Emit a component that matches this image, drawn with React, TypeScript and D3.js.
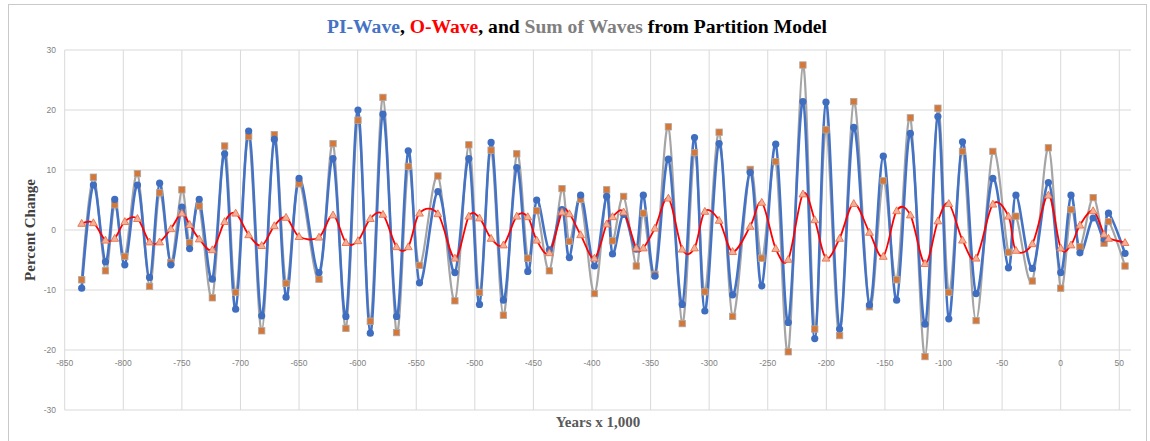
import React from "react";
import * as d3 from "d3";

// Time (years x 1,000) of each model sample
const years = [
  -835.5, -825.5, -815.2, -807.3, -798.7, -787.9, -777.6, -769.0, -759.4, -750.0,
  -743.4, -735.2, -724.0, -713.5, -704.1, -693.0, -681.9, -671.1, -661.1, -650.0,
  -633.0, -621.0, -610.0, -599.7, -589.2, -578.4, -566.8, -556.8, -547.2, -531.5,
  -517.0, -505.1, -496.0, -486.1, -475.6, -464.2, -454.8, -447.2, -436.4, -425.6,
  -419.3, -409.7, -397.9, -387.5, -382.5, -373.0, -362.2, -356.2, -346.3, -334.8,
  -323.0, -312.5, -303.7, -291.5, -280.0, -265.0, -255.1, -243.2, -232.5, -220.0,
  -209.9, -200.3, -188.7, -176.6, -163.2, -151.4, -140.0, -128.3, -115.8, -104.8,
  -95.5, -83.8, -72.2, -57.9, -44.6, -38.2, -24.2, -10.5, 0.0, 8.8,
  16.4, 27.7, 37.0, 40.8, 54.9,
];

// PI-Wave (blue)
const piWave = [
  -9.7, 7.5, -5.3, 5.1, -5.8, 7.5, -7.9, 7.8, -5.8, 3.8,
  -3.1, 5.1, -8.2, 12.7, -13.2, 16.5, -14.3, 15.1, -11.2, 8.6,
  -7.1, 11.9, -14.4, 20.0, -17.2, 19.3, -14.4, 13.2, -8.8, 6.4,
  -7.1, 11.9, -12.4, 14.6, -11.7, 10.4, -6.9, 5.0, -3.3, 3.4,
  -4.6, 5.8, -6.0, 5.6, -4.0, 2.6, -3.2, 5.8, -7.7, 11.8,
  -12.4, 15.4, -13.5, 14.4, -10.8, 9.6, -9.3, 14.3, -15.4, 21.4,
  -18.1, 21.3, -16.5, 17.1, -12.5, 12.3, -11.7, 16.1, -15.7, 18.9,
  -14.8, 14.7, -10.6, 8.6, -6.3, 5.8, -6.4, 7.9, -7.1, 5.8,
  -3.8, 2.0, -1.5, 2.8, -3.9,
];

// O-Wave (red)
const oWave = [
  1.1, 1.2, -1.7, -1.4, 1.4, 1.9, -2.0, -2.0, 0.2, 2.8,
  0.9, -1.5, -3.3, 1.4, 2.8, -0.8, -2.6, 0.7, 2.1, -1.1,
  -1.2, 2.5, -2.1, -1.8, 1.9, 2.6, -2.8, -2.8, 2.8, 2.7,
  -4.7, 2.3, 2.0, -1.4, -2.5, 2.3, 2.2, -1.7, -3.8, 3.0,
  2.7, -0.8, -4.7, 1.0, 2.2, 3.0, -3.0, -3.0, 0.3, 5.3,
  -3.2, -3.0, 3.1, 1.6, -3.6, 0.6, 4.6, -3.1, -4.9, 6.0,
  1.7, -4.7, -1.4, 4.4, -0.4, -4.4, 3.2, 2.5, -5.6, 1.5,
  4.4, -1.7, -4.7, 4.3, 2.3, -3.4, -2.3, 5.8, -3.0, -2.5,
  0.8, 3.2, -0.7, -1.4, -2.1,
];

// Sum of Waves (gray line, orange markers)
const sumWaves = [
  -8.3, 8.8, -6.8, 4.2, -4.4, 9.4, -9.4, 6.2, -5.4, 6.7,
  -2.1, 4.0, -11.3, 14.0, -10.4, 15.6, -16.8, 15.9, -8.9, 7.7,
  -8.2, 14.4, -16.4, 18.3, -15.2, 22.1, -17.1, 10.6, -5.9, 9.0,
  -11.8, 14.2, -10.4, 13.3, -14.2, 12.7, -4.7, 3.2, -6.8, 6.9,
  -1.9, 5.1, -10.6, 6.7, -1.8, 5.6, -6.0, 2.8, -7.4, 17.2,
  -15.6, 12.9, -10.3, 16.3, -14.4, 10.1, -4.7, 11.4, -20.3, 27.5,
  -16.5, 16.7, -17.6, 21.4, -12.8, 8.2, -8.3, 18.7, -21.1, 20.3,
  -10.4, 13.1, -15.1, 13.1, -3.7, 2.3, -8.5, 13.7, -9.7, 3.4,
  -2.8, 5.4, -2.2, 1.4, -6.0,
];

const xTicks = [-850, -800, -750, -700, -650, -600, -550, -500, -450, -400, -350, -300, -250, -200, -150, -100, -50, 0, 50];
const yTicks = [-30, -20, -10, 0, 10, 20, 30];

const BLUE = "#4472C4";
const RED = "#FF0000";
const GRAY = "#A5A5A5";

export default function App() {
  const x = d3.scaleLinear().domain([-850, 60]).range([64.7, 1131]);
  const y = d3.scaleLinear().domain([-30, 30]).range([410, 50]);

  const mkLine = (vals: number[]) =>
    d3
      .line<number>()
      .x((_, i) => x(years[i]))
      .y((d) => y(d))
      .curve(d3.curveCardinal.tension(0))(vals) || "";

  const tickFont = "'Liberation Sans', Arial, sans-serif";
  const serif = "'Liberation Serif', 'Times New Roman', serif";

  return (
    <svg
      width={1150}
      height={441}
      style={{ position: "absolute", left: 0, top: 0, display: "block", background: "#fff" }}
    >
      <rect x={8.5} y={4.5} width={1138} height={450} fill="#fff" stroke="#C9C9C9" strokeWidth={1} />

      {/* Gridlines */}
      {yTicks.map((t) => (
        <line key={"gy" + t} x1={x(-850)} x2={x(60)} y1={y(t)} y2={y(t)} stroke="#D9D9D9" strokeWidth={1} />
      ))}
      {xTicks.map((t) => (
        <line key={"gx" + t} x1={x(t)} x2={x(t)} y1={y(30)} y2={y(-30)} stroke="#D9D9D9" strokeWidth={1} />
      ))}

      {/* Tick labels */}
      {yTicks.map((t) => (
        <text key={"ty" + t} x={56} y={y(t) + 3} textAnchor="end" fontSize={8.5} fill="#7F7F7F" fontFamily={tickFont}>
          {t}
        </text>
      ))}
      {xTicks.map((t) => (
        <text key={"tx" + t} x={x(t)} y={y(-20) + 16} textAnchor="middle" fontSize={8.5} fill="#7F7F7F" fontFamily={tickFont}>
          {t}
        </text>
      ))}

      {/* Series lines */}
      <path d={mkLine(sumWaves)} fill="none" stroke={GRAY} strokeWidth={2.2} />
      <path d={mkLine(piWave)} fill="none" stroke={BLUE} strokeWidth={2.6} />
      <path d={mkLine(oWave)} fill="none" stroke={RED} strokeWidth={1.8} />

      {/* Markers */}
      {sumWaves.map((v, i) => (
        <rect key={"s" + i} x={x(years[i]) - 3.2} y={y(v) - 3.2} width={6.4} height={6.4} fill="#D6773A" stroke="#B0A8A0" strokeWidth={0.8} />
      ))}
      {piWave.map((v, i) => (
        <circle key={"p" + i} cx={x(years[i])} cy={y(v)} r={3.6} fill="#3F6DBF" />
      ))}
      {oWave.map((v, i) => {
        const cx = x(years[i]);
        const cy = y(v);
        return (
          <path
            key={"o" + i}
            d={`M${cx},${cy - 4}L${cx + 3.9},${cy + 2.9}L${cx - 3.9},${cy + 2.9}Z`}
            fill="#F2B09A"
            stroke="#E8704A"
            strokeWidth={0.9}
          />
        );
      })}

      {/* Title */}
      <text x={577} y={33} textAnchor="middle" fontSize={19.6} fontWeight="bold" fontFamily={serif}>
        <tspan fill={BLUE}>PI-Wave</tspan>
        <tspan fill="#000">, </tspan>
        <tspan fill={RED}>O-Wave</tspan>
        <tspan fill="#000">, and </tspan>
        <tspan fill="#7F7F7F">Sum of Waves</tspan>
        <tspan fill="#000"> from Partition Model</tspan>
      </text>

      {/* Axis titles */}
      <text x={598} y={427} textAnchor="middle" fontSize={15} fontWeight="bold" fill="#595959" fontFamily={serif}>
        Years x 1,000
      </text>
      <text
        transform="translate(35,230) rotate(-90)"
        textAnchor="middle"
        fontSize={15}
        fontWeight="bold"
        fill="#404040"
        fontFamily={serif}
      >
        Percent Change
      </text>
    </svg>
  );
}
